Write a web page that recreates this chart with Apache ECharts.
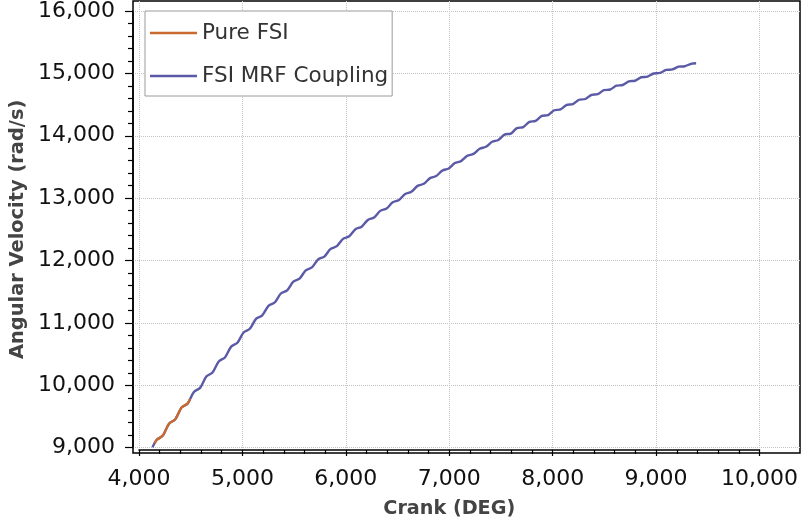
<!DOCTYPE html>
<html>
<head>
<meta charset="utf-8">
<script src="https://cdn.jsdelivr.net/npm/echarts@6/dist/echarts.min.js"></script>
<style>
html,body{margin:0;padding:0;background:#fff;}
#chart{width:801px;height:524px;}
</style>
</head>
<body>
<div id="chart"></div>
<script>
// ---- data ----
var xTicks = [4000, 5000, 6000, 7000, 8000, 9000, 10000];
var yTicks = [9000, 10000, 11000, 12000, 13000, 14000, 15000, 16000];

var mrfCrank = [4130,4170,4230,4290,4350,4410,4470,4530,4590,4650,4710,4770,4830,4890,4950,5010,5070,5130,5190,5250,5310,5370,5430,5490,5550,5610,5670,5730,5790,5850,5910,5970,6030,6090,6150,6210,6270,6330,6390,6450,6510,6570,6630,6690,6750,6810,6870,6930,6990,7050,7110,7170,7230,7290,7350,7410,7470,7530,7590,7650,7710,7770,7830,7890,7950,8010,8070,8130,8190,8250,8310,8370,8430,8490,8550,8610,8670,8730,8790,8850,8910,8970,9030,9090,9150,9210,9270,9330,9380];
var mrfOmega = [9005,9124,9194,9384,9453,9641,9708,9891,9957,10138,10203,10380,10444,10617,10678,10844,10903,11061,11118,11269,11323,11467,11518,11656,11705,11838,11885,12013,12058,12180,12224,12341,12383,12496,12536,12644,12683,12789,12826,12927,12963,13060,13095,13189,13222,13313,13346,13435,13467,13554,13585,13670,13701,13784,13814,13895,13924,14010,14026,14114,14129,14214,14228,14308,14322,14399,14412,14485,14498,14567,14579,14646,14657,14720,14731,14792,14803,14861,14871,14927,14936,14987,14996,15044,15052,15096,15103,15142,15150];

var fsiCrank = [4150,4170,4230,4290,4350,4410,4470,4493];
var fsiOmega = [9070,9124,9194,9384,9453,9641,9708,9780];

var seriesNames = ['Pure FSI', 'FSI MRF Coupling'];
var xTitle = 'Crank (DEG)';
var yTitle = 'Angular Velocity (rad/s)';

function pairs(xs, ys){ return xs.map(function(x,i){ return [x, ys[i]]; }); }
function fmt(v){ return String(v).replace(/\B(?=(\d{3})+(?!\d))/g, ','); }

var FONT = 'DejaVu Sans';
var grid = { type:'dotted', color:'#c4c4c4', width:1 };

var chart = echarts.init(document.getElementById('chart'), null, {renderer:'canvas'});
chart.setOption({
  backgroundColor:'#ffffff',
  animation:false,
  grid:[
    {left:133, right:1, top:1, bottom:71, show:true, borderColor:'#000', borderWidth:1.5, backgroundColor:'transparent'},
    {left:139, right:40.7, top:1, bottom:71},
    {left:133, right:1, top:10.2, bottom:76.3}
  ],
  xAxis:[
    {gridIndex:0, type:'value', min:3942, max:10383, show:false},
    {gridIndex:1, type:'value', min:xTicks[0], max:xTicks[xTicks.length-1], interval:1000, offset:4,
     axisLine:{show:true, lineStyle:{color:'#000', width:1.5}},
     axisTick:{show:true, length:6, lineStyle:{color:'#000', width:1.2}},
     minorTick:{show:true, splitNumber:5, length:4, lineStyle:{color:'#000', width:1.2}},
     axisLabel:{fontFamily:FONT, fontSize:22, color:'#111', margin:14, formatter:fmt},
     splitLine:{show:true, lineStyle:grid},
     name:xTitle, nameLocation:'middle', nameGap:46,
     nameTextStyle:{fontFamily:FONT, fontSize:19.2, fontWeight:'bold', color:'#444'}},
    {gridIndex:2, type:'value', min:0, max:1, show:false}
  ],
  yAxis:[
    {gridIndex:0, type:'value', min:8915, max:16147, show:false},
    {gridIndex:1, type:'value', min:0, max:1, show:false},
    {gridIndex:2, type:'value', min:yTicks[0], max:yTicks[yTicks.length-1], interval:1000, offset:3,
     axisLine:{show:true, lineStyle:{color:'#000', width:1.5}},
     axisTick:{show:true, length:8, lineStyle:{color:'#000', width:1.2}},
     minorTick:{show:true, splitNumber:5, length:5, lineStyle:{color:'#000', width:1.2}},
     axisLabel:{fontFamily:FONT, fontSize:22, color:'#111', margin:15, formatter:fmt},
     splitLine:{show:true, lineStyle:grid},
     name:yTitle, nameLocation:'middle', nameGap:97, nameRotate:90,
     nameTextStyle:{fontFamily:FONT, fontSize:19.4, fontWeight:'bold', color:'#444'}}
  ],
  legend:{
    data:seriesNames, orient:'vertical', left:145, top:11,
    padding:[11,4,9,5], itemGap:21, itemWidth:47, itemHeight:2.5, icon:'rect',
    backgroundColor:'#fff', borderColor:'#9a9a9a', borderWidth:1, borderRadius:0,
    textStyle:{fontFamily:FONT, fontSize:21.5, color:'#333', lineHeight:20, padding:[0,0,0,0]},
    z:10
  },
  series:[
    {name:seriesNames[1], type:'line', xAxisIndex:0, yAxisIndex:0, data:pairs(mrfCrank, mrfOmega),
     symbol:'none', smooth:0.3, color:'#5b5aa6', lineStyle:{color:'#5b5aa6', width:2.4}, z:6},
    {name:seriesNames[0], type:'line', xAxisIndex:0, yAxisIndex:0, data:pairs(fsiCrank, fsiOmega),
     symbol:'none', smooth:0.3, color:'#c96a2e', lineStyle:{color:'#c96a2e', width:2.4}, z:7}
  ]
});
</script>
</body>
</html>
